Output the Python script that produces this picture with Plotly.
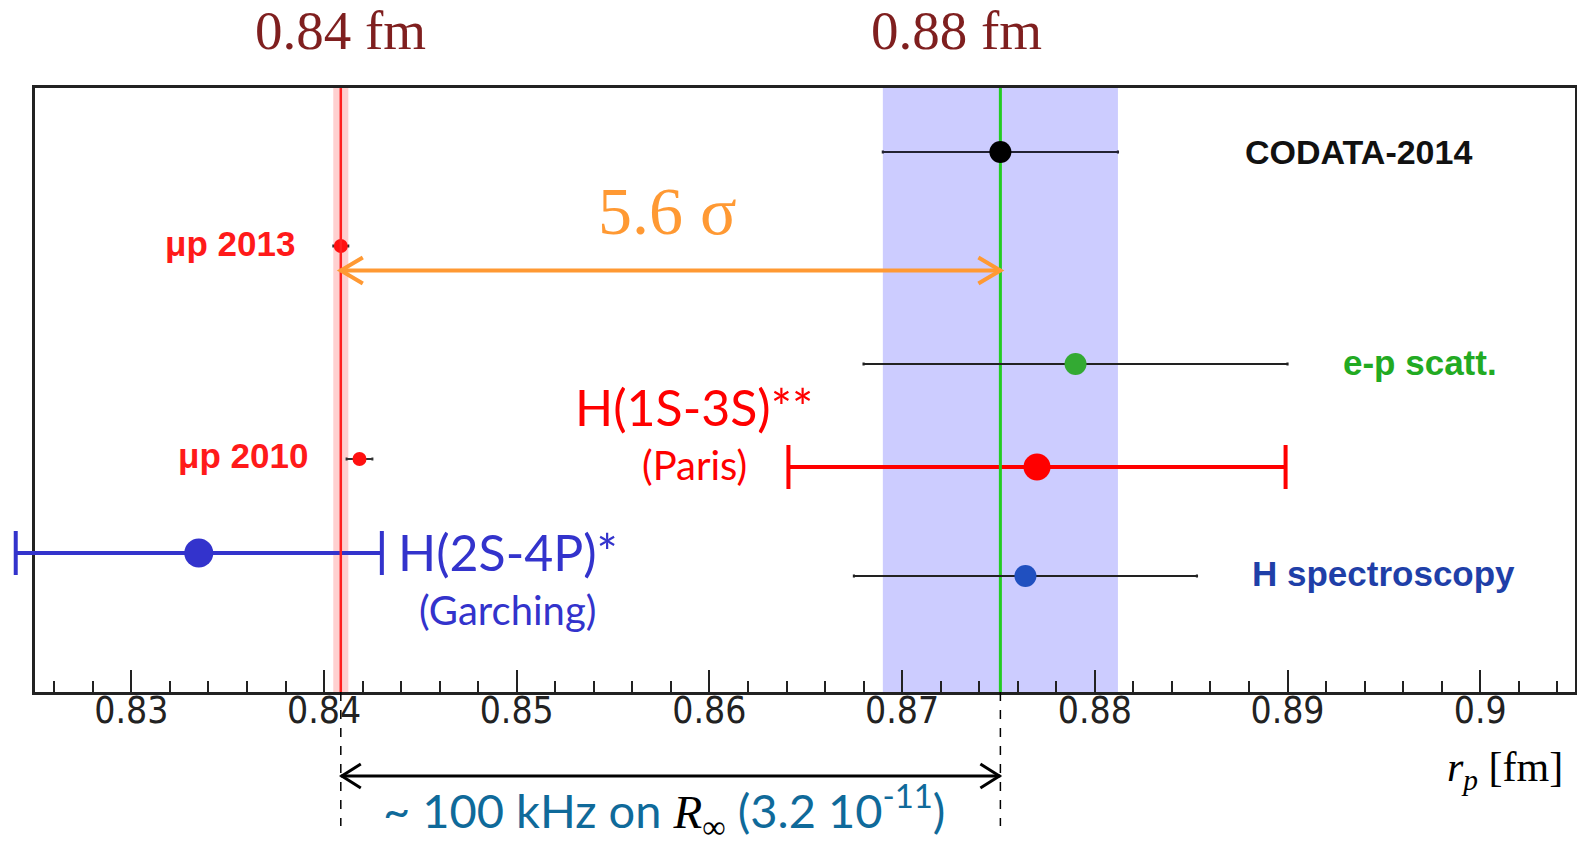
import plotly.graph_objects as go

# ---- data ----
labels = ["CODATA-2014", "μp 2013", "e-p scatt.", "μp 2010", "H(1S-3S)**", "H(2S-4P)*", "H spectroscopy"]
radius = [0.8751, 0.84087, 0.8790, 0.84184, 0.8770, 0.8335, 0.8764]
uncert = [0.0061, 0.00039, 0.0110, 0.00067, 0.0129, 0.0095, 0.0089]
row = [64, 158, 276, 371, 379, 465, 488]
tick_vals = [0.83, 0.84, 0.85, 0.86, 0.87, 0.88, 0.89, 0.90]
tick_text = ["0.83", "0.84", "0.85", "0.86", "0.87", "0.88", "0.89", "0.9"]
sigma_text = "5.6 σ"

idx = {n: i for i, n in enumerate(labels)}
Y_TOP, Y_BOT = 0, 604

W, H = 1577, 847
FRAME_L, FRAME_R = 35, 1575
X0, X1 = 0.825, 0.90492
k = (FRAME_R - FRAME_L) / (X1 - X0)          # pixels per fm
X2_RANGE = [X0 - FRAME_L / k, X1 + (W - FRAME_R) / k]

styles = {
    "H(1S-3S)**": dict(mc="#ff0000", ms=27, ec="#ff0000", ew=4, cw=22),
    "H(2S-4P)*": dict(mc="#3333cc", ms=29, ec="#3333cc", ew=4, cw=22),
    "CODATA-2014": dict(mc="#000000", ms=22, ec="#222233", ew=2.2, cw=1.5),
    "μp 2013": dict(mc="#ff1010", ms=14, ec="#333333", ew=2, cw=1.5),
    "e-p scatt.": dict(mc="#33aa33", ms=22, ec="#222222", ew=2.2, cw=1.5),
    "μp 2010": dict(mc="#ff1010", ms=14, ec="#333333", ew=2, cw=1.5),
    "H spectroscopy": dict(mc="#2050c0", ms=22, ec="#222222", ew=2.2, cw=1.5),
}

fig = go.Figure()

def add_point(name, xaxis="x"):
    i = idx[name]
    s = styles[name]
    fig.add_trace(go.Scatter(
        x=[radius[i]], y=[row[i]], mode="markers", cliponaxis=False, xaxis=xaxis, yaxis="y",
        marker=dict(color=s["mc"], size=s["ms"], line=dict(width=0)),
        error_x=dict(type="data", array=[uncert[i]], color=s["ec"],
                     thickness=s["ew"], width=s["cw"]),
        showlegend=False, hoverinfo="skip"))

mu13 = radius[idx["μp 2013"]]
cod = radius[idx["CODATA-2014"]]

add_point("H(1S-3S)**")
fig.add_trace(go.Scatter(x=[cod, cod], y=[Y_TOP, Y_BOT], mode="lines",
                         line=dict(color="#22cc22", width=3),
                         showlegend=False, hoverinfo="skip"))
for n in ["CODATA-2014", "μp 2013", "e-p scatt.", "μp 2010", "H spectroscopy"]:
    add_point(n)

# wide overlay subplot (same scale) so the Garching bar may run past the frame
add_point("H(2S-4P)*", xaxis="x2")
fig.add_trace(go.Scatter(x=[mu13, mu13], y=[Y_TOP, Y_BOT], mode="lines", xaxis="x2", yaxis="y",
                         line=dict(color="#ff2020", width=2.5),
                         showlegend=False, hoverinfo="skip"))

shapes = []
cu = uncert[idx["CODATA-2014"]]
shapes.append(dict(type="rect", xref="x", yref="y domain", x0=cod - cu, x1=cod + cu,
                   y0=0, y1=1, fillcolor="#ccccff", line=dict(width=0), layer="below"))
mu_u = uncert[idx["μp 2013"]]
shapes.append(dict(type="rect", xref="x", yref="y domain", x0=mu13 - mu_u, x1=mu13 + mu_u,
                   y0=0, y1=1, fillcolor="#ffd0d0", line=dict(width=0), layer="below"))

ORANGE = "#ff9933"
arrow_y = 182.5
shapes.append(dict(type="line", xref="x", yref="y", x0=mu13, x1=cod, y0=arrow_y, y1=arrow_y,
                   line=dict(color=ORANGE, width=4), layer="above"))
shapes.append(dict(type="path", xref="x", yref="y", xsizemode="pixel", ysizemode="pixel",
                   xanchor=mu13, yanchor=arrow_y, path="M 22,13 L 0,0 L 22,-13",
                   line=dict(color=ORANGE, width=4), layer="above"))
shapes.append(dict(type="path", xref="x", yref="y", xsizemode="pixel", ysizemode="pixel",
                   xanchor=cod, yanchor=arrow_y, path="M -22,13 L 0,0 L -22,-13",
                   line=dict(color=ORANGE, width=4), layer="above"))

for v in [mu13, cod]:
    shapes.append(dict(type="line", xref="x", yref="paper", x0=v, x1=v, y0=0, y1=-0.222,
                       line=dict(color="black", width=1.5, dash="dash"), layer="above"))
ba_y = -0.139
shapes.append(dict(type="line", xref="x", yref="paper", x0=mu13, x1=cod, y0=ba_y, y1=ba_y,
                   line=dict(color="black", width=3), layer="above"))
shapes.append(dict(type="path", xref="x", yref="paper", xsizemode="pixel", ysizemode="pixel",
                   xanchor=mu13, yanchor=ba_y, path="M 20,12 L 1,0 L 20,-12",
                   line=dict(color="black", width=3), layer="above"))
shapes.append(dict(type="path", xref="x", yref="paper", xsizemode="pixel", ysizemode="pixel",
                   xanchor=cod, yanchor=ba_y, path="M -20,12 L -1,0 L -20,-12",
                   line=dict(color="black", width=3), layer="above"))

HELV = "Liberation Sans, Arial, sans-serif"
CAL = "Lato, Open Sans, sans-serif"
SERIF = "Liberation Serif, Times New Roman, serif"

ann = []
def a(text, x, y, size, color, family, yref="y", **kw):
    d = dict(text=text, x=x, y=y, xref="x", yref=yref, showarrow=False,
             xanchor="center", yanchor="middle",
             font=dict(size=size, color=color, family=family))
    d.update(kw)
    ann.append(d)

a("<b>CODATA-2014</b>", 0.89366, 64, 34, "#111111", HELV)
a("<b>μp 2013</b>", 0.83512, 155, 35, "#ff1a1a", HELV)
a("<b>e-p scatt.</b>", 0.89688, 274, 35, "#22aa22", HELV)
a("<b>μp 2010</b>", 0.83580, 367, 35, "#ff1a1a", HELV)
a("<b>H spectroscopy</b>", 0.89496, 485, 35, "#1f3fa8", HELV)
a("H(1S-3S)**", 0.8592, 319, 50, "#ff0000", CAL)
a("(Paris)", 0.8592, 377, 40, "#ff0000", CAL)
a("H(2S-4P)*", 0.84955, 464, 50, "#3333cc", CAL)
a("(Garching)", 0.8495, 522, 40, "#3333cc", CAL)
a(sigma_text, 0.8578, 123, 68, ORANGE, SERIF)
a("0.84 fm", 0.84083, 1.095, 55, "#7f1f1f", SERIF, yref="paper")
a("0.88 fm", 0.8728, 1.095, 55, "#7f1f1f", SERIF, yref="paper")
a("<i>r</i><sub><i>p</i></sub> [fm]", 0.90129, -0.129, 42, "#000000", SERIF, yref="paper")
a('~ 100 kHz on <span style="font-family:Liberation Serif;color:black"><i>R</i><sub>∞</sub></span> (3.2 10<sup>-11</sup>)',
  0.85764, -0.2545, 47, "#0f6a9a", CAL, yref="paper", yanchor="bottom", borderpad=0)

fig.update_layout(
    width=W, height=H,
    margin=dict(l=0, r=0, t=88, b=155),
    paper_bgcolor="white", plot_bgcolor="rgba(0,0,0,0)",
    shapes=shapes, annotations=ann,
    showlegend=False,
    xaxis=dict(domain=[FRAME_L / W, FRAME_R / W], range=[X0, X1],
               showgrid=False, zeroline=False,
               showline=True, mirror=True, linecolor="#222222", linewidth=3,
               tickmode="array", tickvals=tick_vals, ticktext=tick_text,
               ticks="inside", ticklen=22, tickwidth=2, tickcolor="#222222",
               minor=dict(dtick=0.002, tick0=0.83, ticks="inside", ticklen=11,
                          tickwidth=2, tickcolor="#222222", showgrid=False),
               tickfont=dict(family="Liberation Sans Narrow, DejaVu Sans Condensed, sans-serif",
                             size=37, color="#222222"),
               ticklabelstandoff=-16),
    xaxis2=dict(domain=[0, 1], range=X2_RANGE, anchor="y", visible=False,
                showgrid=False, zeroline=False),
    yaxis=dict(range=[Y_BOT, Y_TOP], showgrid=False, zeroline=False,
               showline=True, mirror=True, linecolor="#222222", linewidth=3,
               showticklabels=False, ticks=""),
)

fig.write_html("out.html")
